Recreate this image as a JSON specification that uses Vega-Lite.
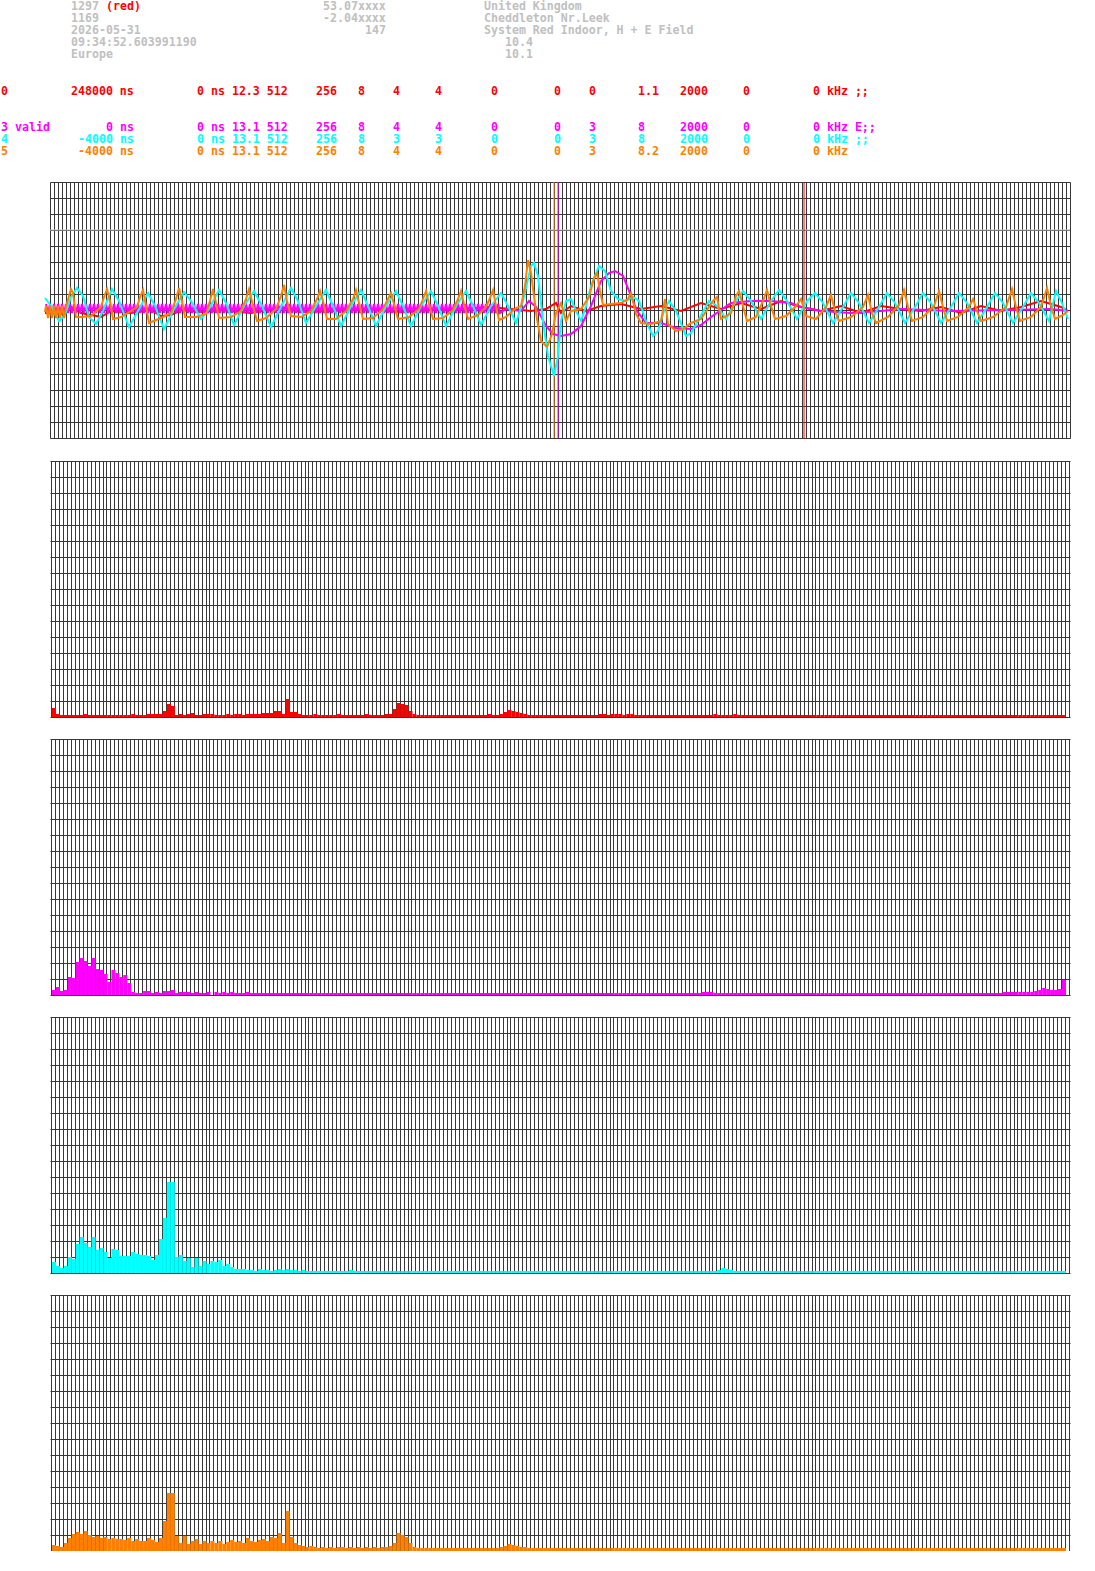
{
"$schema":"https://vega.github.io/schema/vega-lite/v6.json",
"padding":0,
"spacing":22,
"background":"#ffffff",
"config":{"view":{"stroke":null},"mark":{"clip":false},"axis":{"grid":true,"gridColor":"#383838","gridOpacity":1,"gridWidth":1,"labels":false,"ticks":false,"domain":false,"title":null}},
"datasets":{
"hdr":[
{"c":10,"r":10,"t":"1297","k":"g"},{"c":15,"r":10,"t":"(red)","k":"r"},{"c":46,"r":10,"t":"53.07xxxx","k":"g"},{"c":69,"r":10,"t":"United Kingdom","k":"g"},
{"c":10,"r":22,"t":"1169","k":"g"},{"c":46,"r":22,"t":"-2.04xxxx","k":"g"},{"c":69,"r":22,"t":"Cheddleton Nr.Leek","k":"g"},
{"c":10,"r":34,"t":"2026-05-31","k":"g"},{"c":52,"r":34,"t":"147","k":"g"},{"c":69,"r":34,"t":"System Red Indoor, H + E Field","k":"g"},
{"c":10,"r":46,"t":"09:34:52.603991190","k":"g"},{"c":72,"r":46,"t":"10.4","k":"g"},
{"c":10,"r":58,"t":"Europe","k":"g"},{"c":72,"r":58,"t":"10.1","k":"g"},
{"c":0,"r":95,"t":"0","k":"r"},{"c":10,"r":95,"t":"248000 ns","k":"r"},{"c":28,"r":95,"t":"0 ns 12.3 512","k":"r"},{"c":45,"r":95,"t":"256","k":"r"},{"c":51,"r":95,"t":"8","k":"r"},{"c":56,"r":95,"t":"4","k":"r"},{"c":62,"r":95,"t":"4","k":"r"},{"c":70,"r":95,"t":"0","k":"r"},{"c":79,"r":95,"t":"0","k":"r"},{"c":84,"r":95,"t":"0","k":"r"},{"c":91,"r":95,"t":"1.1","k":"r"},{"c":97,"r":95,"t":"2000","k":"r"},{"c":106,"r":95,"t":"0","k":"r"},{"c":116,"r":95,"t":"0 kHz ;;","k":"r"},
{"c":0,"r":131,"t":"3 valid","k":"m"},{"c":15,"r":131,"t":"0 ns","k":"m"},{"c":28,"r":131,"t":"0 ns 13.1 512","k":"m"},{"c":45,"r":131,"t":"256","k":"m"},{"c":51,"r":131,"t":"8","k":"m"},{"c":56,"r":131,"t":"4","k":"m"},{"c":62,"r":131,"t":"4","k":"m"},{"c":70,"r":131,"t":"0","k":"m"},{"c":79,"r":131,"t":"0","k":"m"},{"c":84,"r":131,"t":"3","k":"m"},{"c":91,"r":131,"t":"8","k":"m"},{"c":97,"r":131,"t":"2000","k":"m"},{"c":106,"r":131,"t":"0","k":"m"},{"c":116,"r":131,"t":"0 kHz E;;","k":"m"},
{"c":0,"r":143,"t":"4","k":"c"},{"c":11,"r":143,"t":"-4000 ns","k":"c"},{"c":28,"r":143,"t":"0 ns 13.1 512","k":"c"},{"c":45,"r":143,"t":"256","k":"c"},{"c":51,"r":143,"t":"8","k":"c"},{"c":56,"r":143,"t":"3","k":"c"},{"c":62,"r":143,"t":"3","k":"c"},{"c":70,"r":143,"t":"0","k":"c"},{"c":79,"r":143,"t":"0","k":"c"},{"c":84,"r":143,"t":"3","k":"c"},{"c":91,"r":143,"t":"8","k":"c"},{"c":97,"r":143,"t":"2000","k":"c"},{"c":106,"r":143,"t":"0","k":"c"},{"c":116,"r":143,"t":"0 kHz ;;","k":"c"},
{"c":0,"r":155,"t":"5","k":"o"},{"c":11,"r":155,"t":"-4000 ns","k":"o"},{"c":28,"r":155,"t":"0 ns 13.1 512","k":"o"},{"c":45,"r":155,"t":"256","k":"o"},{"c":51,"r":155,"t":"8","k":"o"},{"c":56,"r":155,"t":"4","k":"o"},{"c":62,"r":155,"t":"4","k":"o"},{"c":70,"r":155,"t":"0","k":"o"},{"c":79,"r":155,"t":"0","k":"o"},{"c":84,"r":155,"t":"3","k":"o"},{"c":91,"r":155,"t":"8.2","k":"o"},{"c":97,"r":155,"t":"2000","k":"o"},{"c":106,"r":155,"t":"0","k":"o"},{"c":116,"r":155,"t":"0 kHz","k":"o"}
],
"marks":[{"u":126,"k":"o"},{"u":127,"k":"m"},{"u":188.5,"k":"r"}],
"lineRed":[{"u":-1.25,"v":-3},{"u":2.75,"v":-4},{"u":5.25,"v":3},{"u":7.75,"v":-3},{"u":12.75,"v":-7},{"u":15.25,"v":-1},{"u":20.25,"v":-3},{"u":25.25,"v":0},{"u":27.75,"v":-6},{"u":30.25,"v":-5},{"u":32.75,"v":0},{"u":37.75,"v":-2},{"u":42.75,"v":0},{"u":50.25,"v":-3},{"u":57.75,"v":3},{"u":62.75,"v":-2},{"u":70.25,"v":-1},{"u":77.75,"v":1},{"u":87.75,"v":-2},{"u":95.25,"v":0},{"u":102.75,"v":1},{"u":110.25,"v":3},{"u":115.25,"v":1},{"u":120.25,"v":-1},{"u":124,"v":1},{"u":126.5,"v":7},{"u":127.75,"v":-3},{"u":130.25,"v":4},{"u":134,"v":-1},{"u":137.75,"v":4},{"u":142.75,"v":6},{"u":147.75,"v":1},{"u":152.75,"v":4},{"u":157.75,"v":-1},{"u":162.75,"v":7},{"u":167.75,"v":1},{"u":172.75,"v":7},{"u":177.75,"v":1},{"u":182.75,"v":9},{"u":187.75,"v":3},{"u":192.75,"v":-1},{"u":197.75,"v":4},{"u":202.75,"v":-3},{"u":207.75,"v":4},{"u":212.75,"v":1},{"u":217.75,"v":-1},{"u":222.75,"v":3},{"u":227.75,"v":-3},{"u":232.75,"v":4},{"u":237.75,"v":-1},{"u":242.75,"v":3},{"u":247.75,"v":9},{"u":252.75,"v":3},{"u":254.5,"v":-1}],
"lineMag":[{"u":-1,"v":6},{"u":-0.5,"v":-3},{"u":0,"v":6},{"u":0.5,"v":-3},{"u":1,"v":6},{"u":1.5,"v":-3},{"u":2,"v":6},{"u":2.5,"v":-3},{"u":3,"v":6},{"u":3.5,"v":-3},{"u":4,"v":6},{"u":4.5,"v":-3},{"u":5,"v":6},{"u":5.5,"v":-3},{"u":6,"v":6},{"u":6.5,"v":-3},{"u":7,"v":6},{"u":7.5,"v":-3},{"u":8,"v":6},{"u":8.5,"v":-3},{"u":9,"v":6},{"u":9.5,"v":-3},{"u":10,"v":6},{"u":10.5,"v":-3},{"u":11,"v":6},{"u":11.5,"v":-3},{"u":12,"v":6},{"u":12.5,"v":-3},{"u":13,"v":6},{"u":13.5,"v":-3},{"u":14,"v":6},{"u":14.5,"v":-3},{"u":15,"v":6},{"u":15.5,"v":-3},{"u":16,"v":6},{"u":16.5,"v":-3},{"u":17,"v":6},{"u":17.5,"v":-3},{"u":18,"v":6},{"u":18.5,"v":-3},{"u":19,"v":6},{"u":19.5,"v":-3},{"u":20,"v":6},{"u":20.5,"v":-3},{"u":21,"v":6},{"u":21.5,"v":-3},{"u":22,"v":6},{"u":22.5,"v":-3},{"u":23,"v":6},{"u":23.5,"v":-3},{"u":24,"v":6},{"u":24.5,"v":-3},{"u":25,"v":6},{"u":25.5,"v":-3},{"u":26,"v":6},{"u":26.5,"v":-3},{"u":27,"v":6},{"u":27.5,"v":-3},{"u":28,"v":6},{"u":28.5,"v":-3},{"u":29,"v":6},{"u":29.5,"v":-3},{"u":30,"v":6},{"u":30.5,"v":-3},{"u":31,"v":6},{"u":31.5,"v":-3},{"u":32,"v":6},{"u":32.5,"v":-3},{"u":33,"v":6},{"u":33.5,"v":-3},{"u":34,"v":6},{"u":34.5,"v":-3},{"u":35,"v":6},{"u":35.5,"v":-3},{"u":36,"v":6},{"u":36.5,"v":-3},{"u":37,"v":6},{"u":37.5,"v":-3},{"u":38,"v":6},{"u":38.5,"v":-3},{"u":39,"v":6},{"u":39.5,"v":-3},{"u":40,"v":6},{"u":40.5,"v":-3},{"u":41,"v":6},{"u":41.5,"v":-3},{"u":42,"v":6},{"u":42.5,"v":-3},{"u":43,"v":6},{"u":43.5,"v":-3},{"u":44,"v":6},{"u":44.5,"v":-3},{"u":45,"v":6},{"u":45.5,"v":-3},{"u":46,"v":6},{"u":46.5,"v":-3},{"u":47,"v":6},{"u":47.5,"v":-3},{"u":48,"v":6},{"u":48.5,"v":-3},{"u":49,"v":6},{"u":49.5,"v":-3},{"u":50,"v":6},{"u":50.5,"v":-3},{"u":51,"v":6},{"u":51.5,"v":-3},{"u":52,"v":6},{"u":52.5,"v":-3},{"u":53,"v":6},{"u":53.5,"v":-3},{"u":54,"v":6},{"u":54.5,"v":-3},{"u":55,"v":6},{"u":55.5,"v":-3},{"u":56,"v":6},{"u":56.5,"v":-3},{"u":57,"v":6},{"u":57.5,"v":-3},{"u":58,"v":6},{"u":58.5,"v":-3},{"u":59,"v":6},{"u":59.5,"v":-3},{"u":60,"v":6},{"u":60.5,"v":-3},{"u":61,"v":6},{"u":61.5,"v":-3},{"u":62,"v":6},{"u":62.5,"v":-3},{"u":63,"v":6},{"u":63.5,"v":-3},{"u":64,"v":6},{"u":64.5,"v":-3},{"u":65,"v":6},{"u":65.5,"v":-3},{"u":66,"v":6},{"u":66.5,"v":-3},{"u":67,"v":6},{"u":67.5,"v":-3},{"u":68,"v":6},{"u":68.5,"v":-3},{"u":69,"v":6},{"u":69.5,"v":-3},{"u":70,"v":6},{"u":70.5,"v":-3},{"u":71,"v":6},{"u":71.5,"v":-3},{"u":72,"v":6},{"u":72.5,"v":-3},{"u":73,"v":6},{"u":73.5,"v":-3},{"u":74,"v":6},{"u":74.5,"v":-3},{"u":75,"v":6},{"u":75.5,"v":-3},{"u":76,"v":6},{"u":76.5,"v":-3},{"u":77,"v":6},{"u":77.5,"v":-3},{"u":78,"v":6},{"u":78.5,"v":-3},{"u":79,"v":6},{"u":79.5,"v":-3},{"u":80,"v":6},{"u":80.5,"v":-3},{"u":81,"v":6},{"u":81.5,"v":-3},{"u":82,"v":6},{"u":82.5,"v":-3},{"u":83,"v":6},{"u":83.5,"v":-3},{"u":84,"v":6},{"u":84.5,"v":-3},{"u":85,"v":6},{"u":85.5,"v":-3},{"u":86,"v":6},{"u":86.5,"v":-3},{"u":87,"v":6},{"u":87.5,"v":-3},{"u":88,"v":6},{"u":88.5,"v":-3},{"u":89,"v":6},{"u":89.5,"v":-3},{"u":90,"v":6},{"u":90.5,"v":-3},{"u":91,"v":6},{"u":91.5,"v":-3},{"u":92,"v":6},{"u":92.5,"v":-3},{"u":93,"v":6},{"u":93.5,"v":-3},{"u":94,"v":6},{"u":94.5,"v":-3},{"u":95,"v":6},{"u":95.5,"v":-3},{"u":96,"v":6},{"u":96.5,"v":-3},{"u":97,"v":6},{"u":97.5,"v":-3},{"u":98,"v":6},{"u":98.5,"v":-3},{"u":99,"v":6},{"u":99.5,"v":-3},{"u":100,"v":6},{"u":100.5,"v":-3},{"u":101,"v":6},{"u":101.5,"v":-3},{"u":102,"v":6},{"u":102.5,"v":-3},{"u":103,"v":6},{"u":103.5,"v":-3},{"u":104,"v":6},{"u":104.5,"v":-3},{"u":105,"v":6},{"u":105.5,"v":-3},{"u":106,"v":6},{"u":106.5,"v":-3},{"u":107,"v":6},{"u":107.5,"v":-3},{"u":108,"v":6},{"u":108.5,"v":-3},{"u":109,"v":6},{"u":109.5,"v":-3},{"u":110,"v":6},{"u":110.5,"v":-3},{"u":111,"v":6},{"u":111.5,"v":-3},{"u":112,"v":6},{"u":112.5,"v":-3},{"u":114,"v":1},{"u":117.75,"v":-1},{"u":119.75,"v":9},{"u":121.5,"v":3},{"u":124,"v":-16},{"u":125.75,"v":-24},{"u":127.75,"v":-26},{"u":130.25,"v":-24},{"u":132.75,"v":-16},{"u":135.25,"v":4},{"u":137.75,"v":29},{"u":139.75,"v":37},{"u":141.25,"v":39},{"u":143.25,"v":34},{"u":145.25,"v":14},{"u":146.75,"v":-1},{"u":149,"v":-13},{"u":152.75,"v":-13},{"u":156.5,"v":-18},{"u":160.25,"v":-19},{"u":162.75,"v":-15},{"u":165.25,"v":-7},{"u":170.25,"v":7},{"u":175.25,"v":9},{"u":180.25,"v":9},{"u":185.25,"v":7},{"u":187.75,"v":3},{"u":192.75,"v":-1},{"u":200.25,"v":-3},{"u":207.75,"v":-1},{"u":212.75,"v":1},{"u":225.25,"v":-1},{"u":237.75,"v":0},{"u":250.25,"v":1},{"u":254.5,"v":-1}],
"lineCyan":[{"u":-1.25,"v":12},{"u":0.25,"v":4},{"u":2.25,"v":-11},{"u":3.75,"v":-5},{"u":5.25,"v":13},{"u":6.75,"v":22},{"u":8.25,"v":14},{"u":9.75,"v":-7},{"u":11.5,"v":-14},{"u":13.25,"v":-1},{"u":15.5,"v":21},{"u":17.25,"v":9},{"u":19.75,"v":-17},{"u":22,"v":-1},{"u":24.5,"v":17},{"u":26.25,"v":4},{"u":28.5,"v":-19},{"u":30.75,"v":-1},{"u":33.5,"v":18},{"u":35.25,"v":9},{"u":37.75,"v":-9},{"u":39.75,"v":1},{"u":42.25,"v":20},{"u":44,"v":7},{"u":46,"v":-15},{"u":48.5,"v":4},{"u":51,"v":19},{"u":53,"v":4},{"u":55.25,"v":-17},{"u":57.75,"v":3},{"u":60.25,"v":22},{"u":62,"v":9},{"u":64,"v":-13},{"u":66.5,"v":4},{"u":69,"v":20},{"u":70.75,"v":4},{"u":72.75,"v":-16},{"u":75.25,"v":4},{"u":77.75,"v":20},{"u":79.5,"v":4},{"u":81.5,"v":-16},{"u":84,"v":4},{"u":86.5,"v":19},{"u":88.25,"v":4},{"u":90.25,"v":-16},{"u":92.75,"v":4},{"u":95.25,"v":19},{"u":97,"v":4},{"u":99,"v":-16},{"u":101.5,"v":4},{"u":104,"v":19},{"u":105.75,"v":4},{"u":107.75,"v":-15},{"u":110.25,"v":4},{"u":112.75,"v":17},{"u":114.5,"v":4},{"u":116.5,"v":-13},{"u":118.25,"v":9},{"u":120.25,"v":44},{"u":121,"v":47},{"u":122,"v":34},{"u":123.25,"v":-11},{"u":124.5,"v":-46},{"u":126,"v":-66},{"u":127,"v":-46},{"u":127.75,"v":-11},{"u":129,"v":9},{"u":130.25,"v":11},{"u":131.5,"v":-1},{"u":132.75,"v":-11},{"u":134,"v":4},{"u":135.25,"v":24},{"u":137.25,"v":44},{"u":138.75,"v":39},{"u":140.25,"v":19},{"u":142,"v":11},{"u":144,"v":9},{"u":145.75,"v":13},{"u":147.25,"v":9},{"u":149,"v":-11},{"u":150.75,"v":-26},{"u":152,"v":-21},{"u":153.5,"v":-1},{"u":154.75,"v":9},{"u":156.5,"v":-1},{"u":159,"v":-26},{"u":160.25,"v":-23},{"u":162.25,"v":-9},{"u":164.75,"v":9},{"u":166.75,"v":4},{"u":169,"v":-9},{"u":171.5,"v":9},{"u":173.25,"v":19},{"u":175.25,"v":9},{"u":177.75,"v":-9},{"u":180.25,"v":9},{"u":182.25,"v":20},{"u":184.25,"v":9},{"u":186.75,"v":-9},{"u":189.25,"v":9},{"u":191.25,"v":17},{"u":193.25,"v":7},{"u":195.75,"v":-13},{"u":198.25,"v":3},{"u":200.25,"v":17},{"u":202.25,"v":7},{"u":204.75,"v":-13},{"u":207.25,"v":3},{"u":209.25,"v":17},{"u":211.25,"v":7},{"u":213.75,"v":-13},{"u":216.25,"v":3},{"u":218.25,"v":17},{"u":220.25,"v":7},{"u":222.75,"v":-13},{"u":225.25,"v":3},{"u":227.25,"v":17},{"u":229.25,"v":7},{"u":231.75,"v":-13},{"u":234.25,"v":3},{"u":236.25,"v":17},{"u":238.25,"v":7},{"u":240.75,"v":-13},{"u":243.25,"v":3},{"u":245.25,"v":17},{"u":247.25,"v":7},{"u":249.75,"v":-11},{"u":251.5,"v":19},{"u":252.75,"v":9},{"u":254.5,"v":-9}],
"lineOrange":[{"u":-1.25,"v":-2},{"u":-1,"v":4},{"u":-0.5,"v":-8},{"u":0,"v":4},{"u":0.5,"v":-8},{"u":1,"v":4},{"u":1.5,"v":-8},{"u":2,"v":4},{"u":2.5,"v":-8},{"u":3,"v":4},{"u":3.5,"v":-8},{"u":4,"v":3},{"u":4.75,"v":14},{"u":5.25,"v":21},{"u":5.75,"v":17},{"u":6.5,"v":-7},{"u":7.75,"v":-7},{"u":10.25,"v":-6},{"u":12.75,"v":3},{"u":13.5,"v":13},{"u":14.25,"v":21},{"u":15,"v":9},{"u":15.75,"v":-9},{"u":17.75,"v":-7},{"u":20.25,"v":-1},{"u":21.75,"v":3},{"u":22.5,"v":13},{"u":23.25,"v":20},{"u":24,"v":4},{"u":24.75,"v":-13},{"u":26.5,"v":-10},{"u":28.25,"v":-7},{"u":30.25,"v":-3},{"u":31.5,"v":11},{"u":32.25,"v":22},{"u":33,"v":9},{"u":33.75,"v":-7},{"u":36.5,"v":-7},{"u":39,"v":-4},{"u":40,"v":9},{"u":40.75,"v":21},{"u":41.5,"v":7},{"u":42.25,"v":-8},{"u":45.25,"v":-7},{"u":47.75,"v":-1},{"u":49,"v":11},{"u":49.75,"v":21},{"u":50.75,"v":4},{"u":51.75,"v":-11},{"u":54,"v":-8},{"u":56.5,"v":1},{"u":57.75,"v":14},{"u":58.5,"v":25},{"u":59.25,"v":9},{"u":60.25,"v":-6},{"u":62.75,"v":-7},{"u":65.25,"v":-1},{"u":66.75,"v":11},{"u":67.5,"v":19},{"u":68.25,"v":9},{"u":69.25,"v":-9},{"u":71.5,"v":-9},{"u":74,"v":-1},{"u":75.75,"v":11},{"u":76.5,"v":20},{"u":77.25,"v":7},{"u":78.25,"v":-9},{"u":80.75,"v":-8},{"u":83.25,"v":1},{"u":84.5,"v":11},{"u":85.25,"v":17},{"u":86,"v":6},{"u":87,"v":-9},{"u":89.75,"v":-7},{"u":92.25,"v":1},{"u":93.25,"v":11},{"u":94,"v":19},{"u":94.75,"v":6},{"u":95.75,"v":-9},{"u":98.25,"v":-8},{"u":100.75,"v":0},{"u":102,"v":11},{"u":102.75,"v":19},{"u":103.5,"v":6},{"u":104.5,"v":-9},{"u":107,"v":-5},{"u":109,"v":3},{"u":110,"v":12},{"u":110.75,"v":20},{"u":111.5,"v":4},{"u":112.25,"v":-10},{"u":114,"v":-7},{"u":116.5,"v":2},{"u":117.75,"v":4},{"u":118.75,"v":24},{"u":119.5,"v":50},{"u":120.25,"v":37},{"u":121,"v":14},{"u":121.75,"v":-9},{"u":122.75,"v":-31},{"u":124.25,"v":-37},{"u":125.5,"v":-24},{"u":126.5,"v":-3},{"u":127.75,"v":7},{"u":129,"v":-11},{"u":130.25,"v":-1},{"u":132.75,"v":1},{"u":134.75,"v":13},{"u":136,"v":32},{"u":136.75,"v":37},{"u":137.5,"v":19},{"u":138.25,"v":5},{"u":140.25,"v":6},{"u":142.75,"v":7},{"u":144.5,"v":11},{"u":145.25,"v":17},{"u":146.5,"v":-4},{"u":147.75,"v":-13},{"u":150.25,"v":-14},{"u":152.75,"v":-11},{"u":153.75,"v":11},{"u":154.5,"v":-14},{"u":156.5,"v":-21},{"u":158.25,"v":-19},{"u":160.25,"v":-13},{"u":162.75,"v":-9},{"u":165.75,"v":9},{"u":166.75,"v":13},{"u":167.75,"v":-9},{"u":170.25,"v":-3},{"u":171.5,"v":14},{"u":172.25,"v":19},{"u":173.25,"v":4},{"u":174.25,"v":-11},{"u":176.5,"v":-7},{"u":178.25,"v":9},{"u":179.25,"v":20},{"u":180.25,"v":4},{"u":181.25,"v":-9},{"u":184,"v":-6},{"u":186.5,"v":4},{"u":187.75,"v":11},{"u":189,"v":-6},{"u":191.5,"v":-9},{"u":194,"v":3},{"u":195.25,"v":15},{"u":196.25,"v":-1},{"u":197.25,"v":-11},{"u":200.25,"v":-7},{"u":203.25,"v":3},{"u":204.5,"v":15},{"u":205.5,"v":-3},{"u":206.5,"v":-13},{"u":209.5,"v":-7},{"u":212.25,"v":5},{"u":213.5,"v":20},{"u":214.5,"v":3},{"u":215.5,"v":-11},{"u":218.25,"v":-7},{"u":221,"v":4},{"u":222.25,"v":19},{"u":223.25,"v":3},{"u":224.25,"v":-11},{"u":227,"v":-7},{"u":229.75,"v":3},{"u":230.75,"v":11},{"u":231.75,"v":-1},{"u":232.75,"v":-11},{"u":235.75,"v":-7},{"u":239,"v":3},{"u":240.5,"v":21},{"u":241.5,"v":3},{"u":242.5,"v":-11},{"u":245.25,"v":-7},{"u":247.75,"v":3},{"u":249.25,"v":22},{"u":250.25,"v":4},{"u":251.25,"v":-9},{"u":253.25,"v":-5},{"u":254.5,"v":-1}],
"barRed":[{"i":0,"h":9},{"i":1,"h":3},{"i":2,"h":2},{"i":3,"h":2},{"i":4,"h":2},{"i":5,"h":2},{"i":6,"h":2},{"i":7,"h":2},{"i":8,"h":3},{"i":9,"h":2},{"i":10,"h":2},{"i":11,"h":2},{"i":12,"h":2},{"i":13,"h":2},{"i":14,"h":2},{"i":15,"h":2},{"i":16,"h":2},{"i":17,"h":2},{"i":18,"h":2},{"i":19,"h":2},{"i":20,"h":3},{"i":21,"h":2},{"i":22,"h":2},{"i":23,"h":2},{"i":24,"h":3},{"i":25,"h":3},{"i":26,"h":3},{"i":27,"h":3},{"i":28,"h":6},{"i":29,"h":13},{"i":30,"h":11},{"i":31,"h":2},{"i":32,"h":3},{"i":33,"h":2},{"i":34,"h":3},{"i":35,"h":4},{"i":36,"h":2},{"i":37,"h":2},{"i":38,"h":3},{"i":39,"h":3},{"i":40,"h":3},{"i":41,"h":2},{"i":42,"h":2},{"i":43,"h":2},{"i":44,"h":3},{"i":45,"h":2},{"i":46,"h":3},{"i":47,"h":3},{"i":48,"h":2},{"i":49,"h":3},{"i":50,"h":3},{"i":51,"h":3},{"i":52,"h":3},{"i":53,"h":4},{"i":54,"h":4},{"i":55,"h":4},{"i":56,"h":6},{"i":57,"h":6},{"i":58,"h":3},{"i":59,"h":18},{"i":60,"h":5},{"i":61,"h":5},{"i":62,"h":3},{"i":63,"h":2},{"i":64,"h":2},{"i":65,"h":2},{"i":66,"h":3},{"i":67,"h":2},{"i":68,"h":2},{"i":69,"h":2},{"i":70,"h":2},{"i":71,"h":2},{"i":72,"h":3},{"i":73,"h":2},{"i":74,"h":2},{"i":75,"h":2},{"i":76,"h":2},{"i":77,"h":2},{"i":78,"h":2},{"i":79,"h":3},{"i":80,"h":2},{"i":81,"h":2},{"i":82,"h":2},{"i":83,"h":2},{"i":84,"h":3},{"i":85,"h":3},{"i":86,"h":8},{"i":87,"h":14},{"i":88,"h":13},{"i":89,"h":12},{"i":90,"h":6},{"i":91,"h":3},{"i":92,"h":2},{"i":93,"h":2},{"i":94,"h":2},{"i":95,"h":2},{"i":96,"h":2},{"i":97,"h":2},{"i":98,"h":2},{"i":99,"h":2},{"i":100,"h":2},{"i":101,"h":2},{"i":102,"h":2},{"i":103,"h":2},{"i":104,"h":2},{"i":105,"h":2},{"i":106,"h":2},{"i":107,"h":2},{"i":108,"h":2},{"i":109,"h":2},{"i":110,"h":3},{"i":111,"h":2},{"i":112,"h":2},{"i":113,"h":3},{"i":114,"h":5},{"i":115,"h":7},{"i":116,"h":6},{"i":117,"h":5},{"i":118,"h":4},{"i":119,"h":3},{"i":120,"h":2},{"i":121,"h":2},{"i":122,"h":2},{"i":123,"h":2},{"i":124,"h":2},{"i":125,"h":2},{"i":126,"h":2},{"i":127,"h":2},{"i":128,"h":2},{"i":129,"h":2},{"i":130,"h":2},{"i":131,"h":2},{"i":132,"h":2},{"i":133,"h":2},{"i":134,"h":2},{"i":135,"h":2},{"i":136,"h":2},{"i":137,"h":2},{"i":138,"h":3},{"i":139,"h":3},{"i":140,"h":2},{"i":141,"h":3},{"i":142,"h":3},{"i":143,"h":3},{"i":144,"h":2},{"i":145,"h":3},{"i":146,"h":3},{"i":147,"h":2},{"i":148,"h":2},{"i":149,"h":2},{"i":150,"h":2},{"i":151,"h":2},{"i":152,"h":2},{"i":153,"h":2},{"i":154,"h":2},{"i":155,"h":2},{"i":156,"h":2},{"i":157,"h":2},{"i":158,"h":2},{"i":159,"h":2},{"i":160,"h":2},{"i":161,"h":2},{"i":162,"h":2},{"i":163,"h":2},{"i":164,"h":2},{"i":165,"h":2},{"i":166,"h":2},{"i":167,"h":3},{"i":168,"h":2},{"i":169,"h":2},{"i":170,"h":2},{"i":171,"h":2},{"i":172,"h":3},{"i":173,"h":2},{"i":174,"h":2},{"i":175,"h":2},{"i":176,"h":2},{"i":177,"h":2},{"i":178,"h":2},{"i":179,"h":2},{"i":180,"h":2},{"i":181,"h":2},{"i":182,"h":2},{"i":183,"h":2},{"i":184,"h":2},{"i":185,"h":2},{"i":186,"h":2},{"i":187,"h":2},{"i":188,"h":2},{"i":189,"h":2},{"i":190,"h":2},{"i":191,"h":2},{"i":192,"h":2},{"i":193,"h":2},{"i":194,"h":2},{"i":195,"h":2},{"i":196,"h":2},{"i":197,"h":2},{"i":198,"h":2},{"i":199,"h":2},{"i":200,"h":2},{"i":201,"h":2},{"i":202,"h":2},{"i":203,"h":2},{"i":204,"h":2},{"i":205,"h":2},{"i":206,"h":2},{"i":207,"h":2},{"i":208,"h":2},{"i":209,"h":2},{"i":210,"h":2},{"i":211,"h":2},{"i":212,"h":2},{"i":213,"h":2},{"i":214,"h":2},{"i":215,"h":2},{"i":216,"h":2},{"i":217,"h":2},{"i":218,"h":2},{"i":219,"h":2},{"i":220,"h":2},{"i":221,"h":2},{"i":222,"h":2},{"i":223,"h":2},{"i":224,"h":2},{"i":225,"h":2},{"i":226,"h":2},{"i":227,"h":2},{"i":228,"h":2},{"i":229,"h":2},{"i":230,"h":2},{"i":231,"h":2},{"i":232,"h":2},{"i":233,"h":2},{"i":234,"h":2},{"i":235,"h":2},{"i":236,"h":2},{"i":237,"h":2},{"i":238,"h":2},{"i":239,"h":2},{"i":240,"h":2},{"i":241,"h":2},{"i":242,"h":2},{"i":243,"h":2},{"i":244,"h":2},{"i":245,"h":2},{"i":246,"h":2},{"i":247,"h":2},{"i":248,"h":2},{"i":249,"h":2},{"i":250,"h":2},{"i":251,"h":2},{"i":252,"h":2},{"i":253,"h":2},{"i":254,"h":2},{"i":255,"h":2}],
"barMag":[{"i":0,"h":5},{"i":1,"h":8},{"i":2,"h":4},{"i":3,"h":5},{"i":4,"h":18},{"i":5,"h":17},{"i":6,"h":33},{"i":7,"h":37},{"i":8,"h":34},{"i":9,"h":29},{"i":10,"h":37},{"i":11,"h":26},{"i":12,"h":25},{"i":13,"h":21},{"i":14,"h":13},{"i":15,"h":25},{"i":16,"h":22},{"i":17,"h":18},{"i":18,"h":20},{"i":19,"h":12},{"i":20,"h":3},{"i":21,"h":2},{"i":22,"h":2},{"i":23,"h":4},{"i":24,"h":4},{"i":25,"h":2},{"i":26,"h":3},{"i":27,"h":2},{"i":28,"h":4},{"i":29,"h":4},{"i":30,"h":5},{"i":31,"h":2},{"i":32,"h":3},{"i":33,"h":3},{"i":34,"h":3},{"i":35,"h":2},{"i":36,"h":3},{"i":37,"h":2},{"i":38,"h":2},{"i":39,"h":3},{"i":40,"h":0},{"i":41,"h":3},{"i":42,"h":2},{"i":43,"h":3},{"i":44,"h":2},{"i":45,"h":3},{"i":46,"h":2},{"i":47,"h":2},{"i":48,"h":2},{"i":49,"h":3},{"i":50,"h":2},{"i":51,"h":2},{"i":52,"h":2},{"i":53,"h":2},{"i":54,"h":2},{"i":55,"h":2},{"i":56,"h":2},{"i":57,"h":2},{"i":58,"h":2},{"i":59,"h":2},{"i":60,"h":2},{"i":61,"h":2},{"i":62,"h":2},{"i":63,"h":2},{"i":64,"h":2},{"i":65,"h":2},{"i":66,"h":2},{"i":67,"h":2},{"i":68,"h":2},{"i":69,"h":2},{"i":70,"h":2},{"i":71,"h":2},{"i":72,"h":2},{"i":73,"h":2},{"i":74,"h":2},{"i":75,"h":2},{"i":76,"h":2},{"i":77,"h":2},{"i":78,"h":2},{"i":79,"h":2},{"i":80,"h":2},{"i":81,"h":2},{"i":82,"h":2},{"i":83,"h":2},{"i":84,"h":2},{"i":85,"h":2},{"i":86,"h":2},{"i":87,"h":2},{"i":88,"h":2},{"i":89,"h":2},{"i":90,"h":2},{"i":91,"h":2},{"i":92,"h":2},{"i":93,"h":2},{"i":94,"h":2},{"i":95,"h":2},{"i":96,"h":2},{"i":97,"h":2},{"i":98,"h":2},{"i":99,"h":2},{"i":100,"h":2},{"i":101,"h":2},{"i":102,"h":2},{"i":103,"h":2},{"i":104,"h":2},{"i":105,"h":2},{"i":106,"h":2},{"i":107,"h":2},{"i":108,"h":2},{"i":109,"h":2},{"i":110,"h":2},{"i":111,"h":2},{"i":112,"h":2},{"i":113,"h":2},{"i":114,"h":2},{"i":115,"h":2},{"i":116,"h":2},{"i":117,"h":2},{"i":118,"h":2},{"i":119,"h":2},{"i":120,"h":2},{"i":121,"h":2},{"i":122,"h":2},{"i":123,"h":2},{"i":124,"h":2},{"i":125,"h":2},{"i":126,"h":2},{"i":127,"h":2},{"i":128,"h":2},{"i":129,"h":2},{"i":130,"h":2},{"i":131,"h":2},{"i":132,"h":2},{"i":133,"h":2},{"i":134,"h":2},{"i":135,"h":2},{"i":136,"h":2},{"i":137,"h":2},{"i":138,"h":2},{"i":139,"h":2},{"i":140,"h":2},{"i":141,"h":2},{"i":142,"h":2},{"i":143,"h":2},{"i":144,"h":2},{"i":145,"h":2},{"i":146,"h":2},{"i":147,"h":2},{"i":148,"h":2},{"i":149,"h":2},{"i":150,"h":2},{"i":151,"h":2},{"i":152,"h":2},{"i":153,"h":2},{"i":154,"h":2},{"i":155,"h":2},{"i":156,"h":2},{"i":157,"h":2},{"i":158,"h":2},{"i":159,"h":2},{"i":160,"h":2},{"i":161,"h":2},{"i":162,"h":2},{"i":163,"h":2},{"i":164,"h":3},{"i":165,"h":3},{"i":166,"h":3},{"i":167,"h":2},{"i":168,"h":2},{"i":169,"h":2},{"i":170,"h":2},{"i":171,"h":2},{"i":172,"h":2},{"i":173,"h":2},{"i":174,"h":2},{"i":175,"h":2},{"i":176,"h":2},{"i":177,"h":2},{"i":178,"h":2},{"i":179,"h":2},{"i":180,"h":2},{"i":181,"h":2},{"i":182,"h":2},{"i":183,"h":2},{"i":184,"h":2},{"i":185,"h":2},{"i":186,"h":2},{"i":187,"h":2},{"i":188,"h":2},{"i":189,"h":2},{"i":190,"h":2},{"i":191,"h":2},{"i":192,"h":2},{"i":193,"h":2},{"i":194,"h":2},{"i":195,"h":2},{"i":196,"h":2},{"i":197,"h":2},{"i":198,"h":2},{"i":199,"h":2},{"i":200,"h":2},{"i":201,"h":2},{"i":202,"h":2},{"i":203,"h":2},{"i":204,"h":2},{"i":205,"h":2},{"i":206,"h":2},{"i":207,"h":2},{"i":208,"h":2},{"i":209,"h":2},{"i":210,"h":2},{"i":211,"h":2},{"i":212,"h":2},{"i":213,"h":2},{"i":214,"h":2},{"i":215,"h":2},{"i":216,"h":2},{"i":217,"h":2},{"i":218,"h":2},{"i":219,"h":2},{"i":220,"h":2},{"i":221,"h":2},{"i":222,"h":2},{"i":223,"h":2},{"i":224,"h":2},{"i":225,"h":2},{"i":226,"h":2},{"i":227,"h":2},{"i":228,"h":2},{"i":229,"h":2},{"i":230,"h":2},{"i":231,"h":2},{"i":232,"h":2},{"i":233,"h":2},{"i":234,"h":2},{"i":235,"h":2},{"i":236,"h":2},{"i":237,"h":2},{"i":238,"h":2},{"i":239,"h":2},{"i":240,"h":3},{"i":241,"h":3},{"i":242,"h":3},{"i":243,"h":3},{"i":244,"h":3},{"i":245,"h":3},{"i":246,"h":3},{"i":247,"h":3},{"i":248,"h":4},{"i":249,"h":5},{"i":250,"h":7},{"i":251,"h":6},{"i":252,"h":5},{"i":253,"h":5},{"i":254,"h":6},{"i":255,"h":15}],
"barCyan":[{"i":0,"h":11},{"i":1,"h":7},{"i":2,"h":5},{"i":3,"h":7},{"i":4,"h":16},{"i":5,"h":14},{"i":6,"h":29},{"i":7,"h":36},{"i":8,"h":30},{"i":9,"h":26},{"i":10,"h":36},{"i":11,"h":23},{"i":12,"h":25},{"i":13,"h":21},{"i":14,"h":15},{"i":15,"h":24},{"i":16,"h":23},{"i":17,"h":17},{"i":18,"h":17},{"i":19,"h":17},{"i":20,"h":21},{"i":21,"h":19},{"i":22,"h":18},{"i":23,"h":18},{"i":24,"h":17},{"i":25,"h":13},{"i":26,"h":18},{"i":27,"h":34},{"i":28,"h":55},{"i":29,"h":91},{"i":30,"h":91},{"i":31,"h":16},{"i":32,"h":18},{"i":33,"h":12},{"i":34,"h":15},{"i":35,"h":6},{"i":36,"h":15},{"i":37,"h":7},{"i":38,"h":12},{"i":39,"h":9},{"i":40,"h":12},{"i":41,"h":11},{"i":42,"h":13},{"i":43,"h":7},{"i":44,"h":9},{"i":45,"h":6},{"i":46,"h":4},{"i":47,"h":4},{"i":48,"h":4},{"i":49,"h":3},{"i":50,"h":3},{"i":51,"h":2},{"i":52,"h":4},{"i":53,"h":3},{"i":54,"h":3},{"i":55,"h":2},{"i":56,"h":3},{"i":57,"h":4},{"i":58,"h":3},{"i":59,"h":4},{"i":60,"h":3},{"i":61,"h":3},{"i":62,"h":2},{"i":63,"h":3},{"i":64,"h":2},{"i":65,"h":2},{"i":66,"h":2},{"i":67,"h":2},{"i":68,"h":2},{"i":69,"h":2},{"i":70,"h":2},{"i":71,"h":2},{"i":72,"h":2},{"i":73,"h":2},{"i":74,"h":2},{"i":75,"h":3},{"i":76,"h":2},{"i":77,"h":2},{"i":78,"h":2},{"i":79,"h":2},{"i":80,"h":2},{"i":81,"h":2},{"i":82,"h":2},{"i":83,"h":2},{"i":84,"h":2},{"i":85,"h":2},{"i":86,"h":2},{"i":87,"h":2},{"i":88,"h":2},{"i":89,"h":2},{"i":90,"h":2},{"i":91,"h":2},{"i":92,"h":2},{"i":93,"h":2},{"i":94,"h":2},{"i":95,"h":2},{"i":96,"h":2},{"i":97,"h":2},{"i":98,"h":2},{"i":99,"h":2},{"i":100,"h":2},{"i":101,"h":2},{"i":102,"h":2},{"i":103,"h":2},{"i":104,"h":2},{"i":105,"h":2},{"i":106,"h":2},{"i":107,"h":2},{"i":108,"h":2},{"i":109,"h":2},{"i":110,"h":2},{"i":111,"h":2},{"i":112,"h":2},{"i":113,"h":2},{"i":114,"h":2},{"i":115,"h":2},{"i":116,"h":2},{"i":117,"h":2},{"i":118,"h":2},{"i":119,"h":2},{"i":120,"h":2},{"i":121,"h":2},{"i":122,"h":2},{"i":123,"h":2},{"i":124,"h":2},{"i":125,"h":2},{"i":126,"h":2},{"i":127,"h":2},{"i":128,"h":2},{"i":129,"h":2},{"i":130,"h":2},{"i":131,"h":2},{"i":132,"h":2},{"i":133,"h":2},{"i":134,"h":2},{"i":135,"h":2},{"i":136,"h":2},{"i":137,"h":2},{"i":138,"h":2},{"i":139,"h":2},{"i":140,"h":2},{"i":141,"h":2},{"i":142,"h":2},{"i":143,"h":2},{"i":144,"h":2},{"i":145,"h":2},{"i":146,"h":2},{"i":147,"h":2},{"i":148,"h":2},{"i":149,"h":2},{"i":150,"h":2},{"i":151,"h":2},{"i":152,"h":2},{"i":153,"h":2},{"i":154,"h":2},{"i":155,"h":2},{"i":156,"h":2},{"i":157,"h":2},{"i":158,"h":2},{"i":159,"h":2},{"i":160,"h":2},{"i":161,"h":2},{"i":162,"h":2},{"i":163,"h":2},{"i":164,"h":2},{"i":165,"h":2},{"i":166,"h":2},{"i":167,"h":2},{"i":168,"h":3},{"i":169,"h":5},{"i":170,"h":4},{"i":171,"h":3},{"i":172,"h":2},{"i":173,"h":2},{"i":174,"h":2},{"i":175,"h":2},{"i":176,"h":2},{"i":177,"h":2},{"i":178,"h":2},{"i":179,"h":2},{"i":180,"h":2},{"i":181,"h":2},{"i":182,"h":2},{"i":183,"h":2},{"i":184,"h":2},{"i":185,"h":2},{"i":186,"h":2},{"i":187,"h":2},{"i":188,"h":2},{"i":189,"h":2},{"i":190,"h":2},{"i":191,"h":2},{"i":192,"h":2},{"i":193,"h":2},{"i":194,"h":2},{"i":195,"h":2},{"i":196,"h":2},{"i":197,"h":2},{"i":198,"h":2},{"i":199,"h":2},{"i":200,"h":2},{"i":201,"h":2},{"i":202,"h":2},{"i":203,"h":2},{"i":204,"h":2},{"i":205,"h":2},{"i":206,"h":2},{"i":207,"h":2},{"i":208,"h":2},{"i":209,"h":2},{"i":210,"h":2},{"i":211,"h":2},{"i":212,"h":2},{"i":213,"h":2},{"i":214,"h":2},{"i":215,"h":2},{"i":216,"h":2},{"i":217,"h":2},{"i":218,"h":2},{"i":219,"h":2},{"i":220,"h":2},{"i":221,"h":2},{"i":222,"h":2},{"i":223,"h":2},{"i":224,"h":2},{"i":225,"h":2},{"i":226,"h":2},{"i":227,"h":2},{"i":228,"h":2},{"i":229,"h":2},{"i":230,"h":2},{"i":231,"h":2},{"i":232,"h":2},{"i":233,"h":2},{"i":234,"h":2},{"i":235,"h":2},{"i":236,"h":2},{"i":237,"h":2},{"i":238,"h":2},{"i":239,"h":2},{"i":240,"h":2},{"i":241,"h":2},{"i":242,"h":2},{"i":243,"h":2},{"i":244,"h":2},{"i":245,"h":2},{"i":246,"h":2},{"i":247,"h":2},{"i":248,"h":2},{"i":249,"h":2},{"i":250,"h":2},{"i":251,"h":2},{"i":252,"h":2},{"i":253,"h":2},{"i":254,"h":2},{"i":255,"h":2}],
"barOrange":[{"i":0,"h":6},{"i":1,"h":5},{"i":2,"h":4},{"i":3,"h":8},{"i":4,"h":13},{"i":5,"h":17},{"i":6,"h":19},{"i":7,"h":17},{"i":8,"h":20},{"i":9,"h":16},{"i":10,"h":14},{"i":11,"h":15},{"i":12,"h":13},{"i":13,"h":14},{"i":14,"h":12},{"i":15,"h":13},{"i":16,"h":12},{"i":17,"h":12},{"i":18,"h":11},{"i":19,"h":13},{"i":20,"h":10},{"i":21,"h":12},{"i":22,"h":10},{"i":23,"h":10},{"i":24,"h":13},{"i":25,"h":11},{"i":26,"h":9},{"i":27,"h":13},{"i":28,"h":30},{"i":29,"h":58},{"i":30,"h":58},{"i":31,"h":15},{"i":32,"h":8},{"i":33,"h":15},{"i":34,"h":7},{"i":35,"h":10},{"i":36,"h":12},{"i":37,"h":7},{"i":38,"h":10},{"i":39,"h":8},{"i":40,"h":10},{"i":41,"h":8},{"i":42,"h":10},{"i":43,"h":7},{"i":44,"h":9},{"i":45,"h":11},{"i":46,"h":9},{"i":47,"h":10},{"i":48,"h":8},{"i":49,"h":13},{"i":50,"h":10},{"i":51,"h":9},{"i":52,"h":11},{"i":53,"h":12},{"i":54,"h":10},{"i":55,"h":14},{"i":56,"h":13},{"i":57,"h":18},{"i":58,"h":8},{"i":59,"h":40},{"i":60,"h":14},{"i":61,"h":8},{"i":62,"h":6},{"i":63,"h":5},{"i":64,"h":4},{"i":65,"h":5},{"i":66,"h":4},{"i":67,"h":3},{"i":68,"h":4},{"i":69,"h":3},{"i":70,"h":4},{"i":71,"h":3},{"i":72,"h":4},{"i":73,"h":4},{"i":74,"h":3},{"i":75,"h":4},{"i":76,"h":3},{"i":77,"h":4},{"i":78,"h":3},{"i":79,"h":4},{"i":80,"h":3},{"i":81,"h":4},{"i":82,"h":3},{"i":83,"h":4},{"i":84,"h":4},{"i":85,"h":5},{"i":86,"h":8},{"i":87,"h":18},{"i":88,"h":16},{"i":89,"h":14},{"i":90,"h":8},{"i":91,"h":4},{"i":92,"h":3},{"i":93,"h":3},{"i":94,"h":3},{"i":95,"h":3},{"i":96,"h":3},{"i":97,"h":3},{"i":98,"h":3},{"i":99,"h":3},{"i":100,"h":3},{"i":101,"h":3},{"i":102,"h":3},{"i":103,"h":3},{"i":104,"h":3},{"i":105,"h":3},{"i":106,"h":3},{"i":107,"h":3},{"i":108,"h":3},{"i":109,"h":3},{"i":110,"h":3},{"i":111,"h":3},{"i":112,"h":3},{"i":113,"h":4},{"i":114,"h":5},{"i":115,"h":7},{"i":116,"h":6},{"i":117,"h":5},{"i":118,"h":4},{"i":119,"h":4},{"i":120,"h":3},{"i":121,"h":3},{"i":122,"h":3},{"i":123,"h":3},{"i":124,"h":3},{"i":125,"h":3},{"i":126,"h":3},{"i":127,"h":3},{"i":128,"h":3},{"i":129,"h":3},{"i":130,"h":3},{"i":131,"h":3},{"i":132,"h":3},{"i":133,"h":3},{"i":134,"h":3},{"i":135,"h":3},{"i":136,"h":3},{"i":137,"h":3},{"i":138,"h":3},{"i":139,"h":3},{"i":140,"h":3},{"i":141,"h":3},{"i":142,"h":3},{"i":143,"h":3},{"i":144,"h":3},{"i":145,"h":3},{"i":146,"h":3},{"i":147,"h":3},{"i":148,"h":3},{"i":149,"h":3},{"i":150,"h":3},{"i":151,"h":3},{"i":152,"h":3},{"i":153,"h":3},{"i":154,"h":3},{"i":155,"h":3},{"i":156,"h":3},{"i":157,"h":3},{"i":158,"h":3},{"i":159,"h":3},{"i":160,"h":3},{"i":161,"h":3},{"i":162,"h":3},{"i":163,"h":3},{"i":164,"h":3},{"i":165,"h":3},{"i":166,"h":3},{"i":167,"h":3},{"i":168,"h":3},{"i":169,"h":3},{"i":170,"h":3},{"i":171,"h":3},{"i":172,"h":3},{"i":173,"h":3},{"i":174,"h":3},{"i":175,"h":3},{"i":176,"h":3},{"i":177,"h":3},{"i":178,"h":3},{"i":179,"h":3},{"i":180,"h":3},{"i":181,"h":3},{"i":182,"h":3},{"i":183,"h":3},{"i":184,"h":3},{"i":185,"h":3},{"i":186,"h":3},{"i":187,"h":3},{"i":188,"h":3},{"i":189,"h":3},{"i":190,"h":3},{"i":191,"h":3},{"i":192,"h":3},{"i":193,"h":3},{"i":194,"h":3},{"i":195,"h":3},{"i":196,"h":3},{"i":197,"h":3},{"i":198,"h":3},{"i":199,"h":3},{"i":200,"h":3},{"i":201,"h":3},{"i":202,"h":3},{"i":203,"h":3},{"i":204,"h":3},{"i":205,"h":3},{"i":206,"h":3},{"i":207,"h":3},{"i":208,"h":3},{"i":209,"h":3},{"i":210,"h":3},{"i":211,"h":3},{"i":212,"h":3},{"i":213,"h":3},{"i":214,"h":3},{"i":215,"h":3},{"i":216,"h":3},{"i":217,"h":3},{"i":218,"h":3},{"i":219,"h":3},{"i":220,"h":3},{"i":221,"h":3},{"i":222,"h":3},{"i":223,"h":3},{"i":224,"h":3},{"i":225,"h":3},{"i":226,"h":3},{"i":227,"h":3},{"i":228,"h":3},{"i":229,"h":3},{"i":230,"h":3},{"i":231,"h":3},{"i":232,"h":3},{"i":233,"h":3},{"i":234,"h":3},{"i":235,"h":3},{"i":236,"h":3},{"i":237,"h":3},{"i":238,"h":3},{"i":239,"h":3},{"i":240,"h":3},{"i":241,"h":3},{"i":242,"h":3},{"i":243,"h":3},{"i":244,"h":3},{"i":245,"h":3},{"i":246,"h":3},{"i":247,"h":3},{"i":248,"h":3},{"i":249,"h":3},{"i":250,"h":3},{"i":251,"h":3},{"i":252,"h":3},{"i":253,"h":3},{"i":254,"h":3},{"i":255,"h":3}]
},
"vconcat":[
{"width":1020,"height":159,"data":{"name":"hdr"},
 "mark":{"type":"text","align":"left","baseline":"alphabetic","font":"DejaVu Sans Mono","fontSize":11.6,"fontWeight":"bold"},
 "encoding":{
  "x":{"field":"c","type":"quantitative","scale":{"domain":[7,152.7142857],"nice":false,"zero":false},"axis":null},
  "y":{"field":"r","type":"quantitative","scale":{"domain":[0,159],"nice":false,"reverse":true},"axis":null},
  "text":{"field":"t"},
  "color":{"field":"k","type":"nominal","scale":{"domain":["g","r","m","c","o"],"range":["#c0c0c0","#ff0000","#ff00ff","#00ffff","#ff8000"]},"legend":null}}},
{"width":1020,"height":256,
 "layer":[
  {"data":{"values":[{"v":80}]},"mark":{"type":"rule","color":"#c0c0c0","strokeWidth":1},
   "encoding":{"y":{"field":"v","type":"quantitative","scale":{"domain":[-128,128],"nice":false},"axis":{"values":[-128,-112,-96,-80,-64,-48,-32,-16,0,16,32,48,64,80,96,112,128]}}}},
  {"data":{"name":"marks"},"mark":{"type":"rule","strokeWidth":1},
   "encoding":{"x":{"field":"u","type":"quantitative","scale":{"domain":[0,255],"nice":false,"zero":false},"axis":{"tickCount":256}},
   "color":{"field":"k","type":"nominal","scale":{"domain":["r","m","c","o"],"range":["#ff0000","#ff00ff","#00ffff","#ff8000"]},"legend":null}}},
  {"data":{"name":"lineRed"},"mark":{"type":"line","color":"#ff0000","strokeWidth":2},
   "encoding":{"x":{"field":"u","type":"quantitative","scale":{"domain":[0,255],"nice":false,"zero":false},"axis":{"tickCount":256}},
   "y":{"field":"v","type":"quantitative","scale":{"domain":[-128,128],"nice":false},"axis":{"values":[-128,-112,-96,-80,-64,-48,-32,-16,0,16,32,48,64,80,96,112,128]}}}},
  {"data":{"name":"lineMag"},"mark":{"type":"line","color":"#ff00ff","strokeWidth":2},
   "encoding":{"x":{"field":"u","type":"quantitative","scale":{"domain":[0,255],"nice":false,"zero":false},"axis":{"tickCount":256}},
   "y":{"field":"v","type":"quantitative","scale":{"domain":[-128,128],"nice":false},"axis":{"values":[-128,-112,-96,-80,-64,-48,-32,-16,0,16,32,48,64,80,96,112,128]}}}},
  {"data":{"name":"lineCyan"},"mark":{"type":"line","color":"#00ffff","strokeWidth":2},
   "encoding":{"x":{"field":"u","type":"quantitative","scale":{"domain":[0,255],"nice":false,"zero":false},"axis":{"tickCount":256}},
   "y":{"field":"v","type":"quantitative","scale":{"domain":[-128,128],"nice":false},"axis":{"values":[-128,-112,-96,-80,-64,-48,-32,-16,0,16,32,48,64,80,96,112,128]}}}},
  {"data":{"name":"lineOrange"},"mark":{"type":"line","color":"#ff8000","strokeWidth":2},
   "encoding":{"x":{"field":"u","type":"quantitative","scale":{"domain":[0,255],"nice":false,"zero":false},"axis":{"tickCount":256}},
   "y":{"field":"v","type":"quantitative","scale":{"domain":[-128,128],"nice":false},"axis":{"values":[-128,-112,-96,-80,-64,-48,-32,-16,0,16,32,48,64,80,96,112,128]}}}}
 ]},
{"width":1020,"height":256,"data":{"name":"barRed"},"mark":{"type":"bar","width":4,"xOffset":-1,"color":"#ff0000"},
 "encoding":{"x":{"field":"i","type":"quantitative","scale":{"domain":[0,255],"nice":false,"zero":false},"axis":{"tickCount":256}},
 "y":{"field":"h","type":"quantitative","scale":{"domain":[0,256],"nice":false},"axis":{"values":[0,16,32,48,64,80,96,112,128,144,160,176,192,208,224,240,256]}}}},
{"width":1020,"height":256,"data":{"name":"barMag"},"mark":{"type":"bar","width":4,"xOffset":-1,"color":"#ff00ff"},
 "encoding":{"x":{"field":"i","type":"quantitative","scale":{"domain":[0,255],"nice":false,"zero":false},"axis":{"tickCount":256}},
 "y":{"field":"h","type":"quantitative","scale":{"domain":[0,256],"nice":false},"axis":{"values":[0,16,32,48,64,80,96,112,128,144,160,176,192,208,224,240,256]}}}},
{"width":1020,"height":256,"data":{"name":"barCyan"},"mark":{"type":"bar","width":4,"xOffset":-1,"color":"#00ffff"},
 "encoding":{"x":{"field":"i","type":"quantitative","scale":{"domain":[0,255],"nice":false,"zero":false},"axis":{"tickCount":256}},
 "y":{"field":"h","type":"quantitative","scale":{"domain":[0,256],"nice":false},"axis":{"values":[0,16,32,48,64,80,96,112,128,144,160,176,192,208,224,240,256]}}}},
{"width":1020,"height":256,"data":{"name":"barOrange"},"mark":{"type":"bar","width":4,"xOffset":-1,"color":"#ff8000"},
 "encoding":{"x":{"field":"i","type":"quantitative","scale":{"domain":[0,255],"nice":false,"zero":false},"axis":{"tickCount":256}},
 "y":{"field":"h","type":"quantitative","scale":{"domain":[0,256],"nice":false},"axis":{"values":[0,16,32,48,64,80,96,112,128,144,160,176,192,208,224,240,256]}}}}
]
}
